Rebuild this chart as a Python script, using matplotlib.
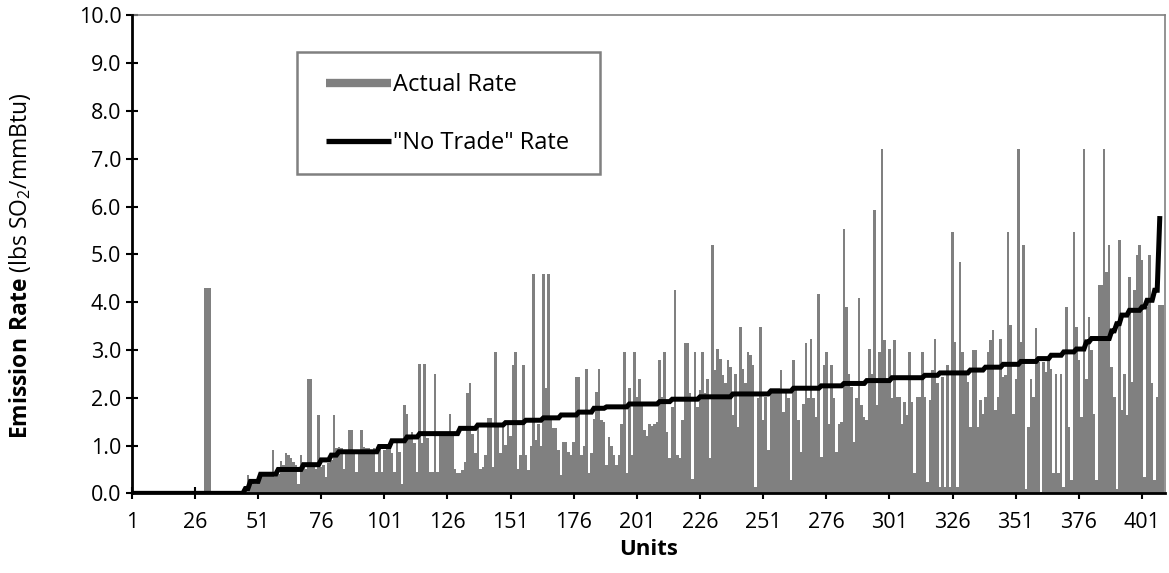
import numpy as np
import matplotlib
matplotlib.use("Agg")
import matplotlib.pyplot as plt
from matplotlib.lines import Line2D
from matplotlib.patches import Rectangle

plt.rcParams['font.family'] = ['Open Sans', 'DejaVu Sans']
plt.rcParams['mathtext.fontset'] = 'custom'
plt.rcParams['mathtext.rm'] = 'Open Sans'
plt.rcParams['mathtext.bf'] = 'Open Sans:bold'

# actual emission rate per unit (lbs SO2/mmBtu)
actual_rate = [
    0, 0, 0, 0, 0, 0, 0, 0, 0, 0,
    0, 0, 0, 0, 0, 0, 0, 0, 0, 0,
    0, 0, 0, 0, 0, 0, 0, 0, 0, 4.3,
    4.3, 4.3, 0, 0, 0, 0, 0, 0, 0, 0,
    0, 0, 0, 0, 0.05, 0.1, 0.38, 0.25, 0.3, 0.2,
    0.35, 0.38, 0.4, 0.38, 0.4, 0.42, 0.9, 0.35, 0.4, 0.68,
    0.6, 0.85, 0.8, 0.75, 0.65, 0.6, 0.2, 0.8, 0.55, 0.5,
    2.4, 2.4, 0.55, 0.5, 1.64, 0.55, 0.6, 0.35, 0.63, 0.7,
    1.64, 0.95, 0.98, 0.95, 0.52, 0.9, 1.32, 1.32, 0.9, 0.45,
    0.85, 1.32, 0.98, 0.94, 0.95, 0.9, 0.94, 0.45, 1.0, 0.45,
    0.9, 0.92, 0.98, 0.85, 0.45, 1.08, 0.87, 0.2, 1.85, 1.67,
    1.2, 1.29, 1.05, 0.45, 2.7, 1.05, 2.7, 1.15, 0.45, 0.45,
    2.5, 0.45, 1.29, 1.22, 1.2, 1.22, 1.67, 1.2, 0.5, 0.42,
    0.42, 0.49, 0.66, 2.09, 2.3, 1.25, 0.84, 1.43, 0.52, 0.55,
    0.8, 1.57, 1.57, 0.56, 2.96, 1.4, 0.84, 1.43, 1.01, 1.46,
    1.2, 2.68, 2.96, 0.52, 0.8, 2.68, 0.8, 0.49, 1.0, 4.6,
    1.11, 1.46, 1.0, 4.6, 2.2, 4.6, 1.53, 1.36, 1.36, 0.9,
    0.38, 1.08, 1.08, 0.87, 0.8, 1.08, 2.44, 2.44, 0.8, 1.0,
    2.61, 0.42, 0.84, 1.55, 2.13, 2.61, 1.53, 1.5, 0.6, 1.18,
    1.0, 0.8, 0.6, 0.8, 1.46, 2.96, 0.42, 2.2, 0.8, 2.96,
    2.02, 2.4, 1.88, 1.32, 1.2, 1.46, 1.4, 1.46, 1.5, 2.79,
    2.02, 2.96, 1.29, 0.73, 1.81, 4.25, 0.8, 0.73, 1.53, 3.14,
    3.14, 2.09, 0.31, 2.96, 1.81, 2.16, 2.96, 2.09, 2.4, 0.73,
    5.19, 2.58, 3.03, 2.82, 2.47, 2.3, 2.79, 2.65, 1.64, 2.5,
    1.39, 3.48, 2.6, 2.3, 2.96, 2.9, 2.68, 0.14, 2.0, 3.48,
    1.53, 2.02, 0.9, 2.2, 2.2, 2.2, 2.2, 2.58, 1.7, 2.13,
    2.0, 0.28, 2.79, 2.2, 1.53, 0.87, 1.88, 3.14, 1.99, 3.24,
    1.99, 1.6, 4.18, 0.77, 2.68, 2.96, 1.46, 2.68, 2.0, 0.87,
    1.46, 1.5, 5.54, 3.9, 2.5, 2.23, 1.08, 2.0, 4.08, 1.85,
    1.6, 1.53, 3.03, 2.5, 5.92, 1.85, 2.96, 7.2, 3.2, 2.4,
    3.03, 1.99, 3.2, 2.02, 2.02, 1.46, 1.92, 1.64, 2.96, 1.92,
    0.42, 2.02, 2.02, 2.96, 2.02, 0.24, 1.95, 2.58, 3.24, 2.3,
    0.14, 2.44, 0.14, 2.68, 0.14, 5.47, 3.17, 0.14, 4.84, 2.96,
    2.54, 2.33, 1.39, 3.0, 3.0, 1.39, 1.95, 1.67, 2.02, 2.96,
    3.2, 3.41, 1.74, 2.02, 3.24, 2.44, 2.47, 5.47, 3.52, 1.67,
    2.4, 7.2, 3.17, 5.19, 0.1, 1.39, 2.4, 2.02, 3.45, 2.75,
    0.03, 2.75, 2.54, 2.79, 2.6, 0.42, 2.5, 0.42, 2.5, 0.14,
    3.9, 1.39, 0.28, 5.47, 3.48, 2.8, 1.6, 7.2, 2.4, 3.69,
    3.0, 1.67, 0.28, 4.36, 4.36, 7.2, 4.63, 5.19, 2.65, 2.02,
    0.1, 5.3, 1.74, 2.5, 1.64, 4.53, 2.33, 4.25, 4.98, 5.2,
    4.88, 0.35, 3.9, 4.98, 2.3, 0.28, 2.02, 3.94, 3.94,
]

# "No Trade" rate: levels and how many consecutive units sit on each level
no_trade_levels = [0, 0.1, 0.25, 0.4, 0.5, 0.6, 0.7, 0.8, 0.87, 0.98,
                   1.1, 1.18, 1.25, 1.36, 1.43, 1.48, 1.53, 1.58, 1.64, 1.7,
                   1.78, 1.81, 1.87, 1.92, 1.97, 2.02, 2.08, 2.14, 2.2, 2.25,
                   2.3, 2.36, 2.42, 2.47, 2.52, 2.58, 2.64, 2.7, 2.76, 2.82,
                   2.89, 2.96, 3.02, 3.17, 3.24, 3.4, 3.55, 3.73, 3.83, 3.9,
                   4.04, 4.25, 5.75]
no_trade_counts = [45, 2, 4, 7, 10, 7, 4, 3, 16, 5,
                   6, 5, 16, 7, 11, 8, 7, 7, 7, 6,
                   5, 9, 12, 5, 11, 13, 15, 9, 11, 9,
                   9, 10, 13, 6, 12, 6, 7, 7, 7, 5,
                   5, 5, 4, 2, 8, 2, 2, 3, 5, 2,
                   3, 2, 1]

tick_units = [1, 26, 51, 76, 101, 126, 151, 176, 201, 226, 251, 276, 301,
              326, 351, 376, 401]

units = np.arange(1, len(actual_rate) + 1)
no_trade = np.repeat(no_trade_levels, no_trade_counts)
no_trade_units = np.arange(1, len(no_trade) + 1)

fig = plt.figure(figsize=(11.69, 5.73), dpi=100)
ax = fig.add_axes([0.1127, 0.139, 0.8837, 0.834])

ax.bar(units, actual_rate, width=1.0, color='#808080', linewidth=0, zorder=2)
ax.plot(no_trade_units, no_trade, color='black', lw=3.6, zorder=3,
        solid_joinstyle='miter')

ax.set_xlim(1, 410)
ax.set_ylim(0, 10)
ax.set_xticks(tick_units)
ax.set_yticks(np.arange(0, 11, 1))
ax.set_yticklabels([f"{v:.1f}" for v in np.arange(0, 11, 1)])

for s in ['top', 'right']:
    ax.spines[s].set_color('#808080')
    ax.spines[s].set_linewidth(1.2)
for s in ['left', 'bottom']:
    ax.spines[s].set_color('black')
    ax.spines[s].set_linewidth(2)
    ax.spines[s].set_zorder(4)

ax.tick_params(axis='both', direction='inout', length=9, width=1.5,
               labelsize=15.5, color='black')
ax.tick_params(axis='x', pad=9)
ax.tick_params(axis='y', pad=3)

ax.set_xlabel('Units', fontsize=16, fontweight='bold', labelpad=4)
ax.set_ylabel(r'$\bf{Emission\ Rate}$ (lbs SO$_2$/mmBtu)', fontsize=16.5,
              labelpad=30)
ax.yaxis.set_label_coords(-0.0955, 0.475)

# legend frame drawn separately so the inner padding can match
ax.add_patch(Rectangle((0.160, 0.668), 0.293, 0.255, transform=ax.transAxes,
                       facecolor='white', edgecolor='#808080', lw=1.8,
                       zorder=5))
handles = [Line2D([], [], color='#808080', lw=6, solid_capstyle='butt'),
           Line2D([], [], color='black', lw=3.8, solid_capstyle='butt')]
leg = ax.legend(handles, ['Actual Rate', '"No Trade" Rate'],
                loc='upper left', bbox_to_anchor=(0.188, 0.880),
                fontsize=17, frameon=False,
                handlelength=2.75, handletextpad=0.1, labelspacing=1.45,
                borderpad=0, borderaxespad=0)
leg.set_zorder(6)

fig.savefig('out.png', dpi=100)
